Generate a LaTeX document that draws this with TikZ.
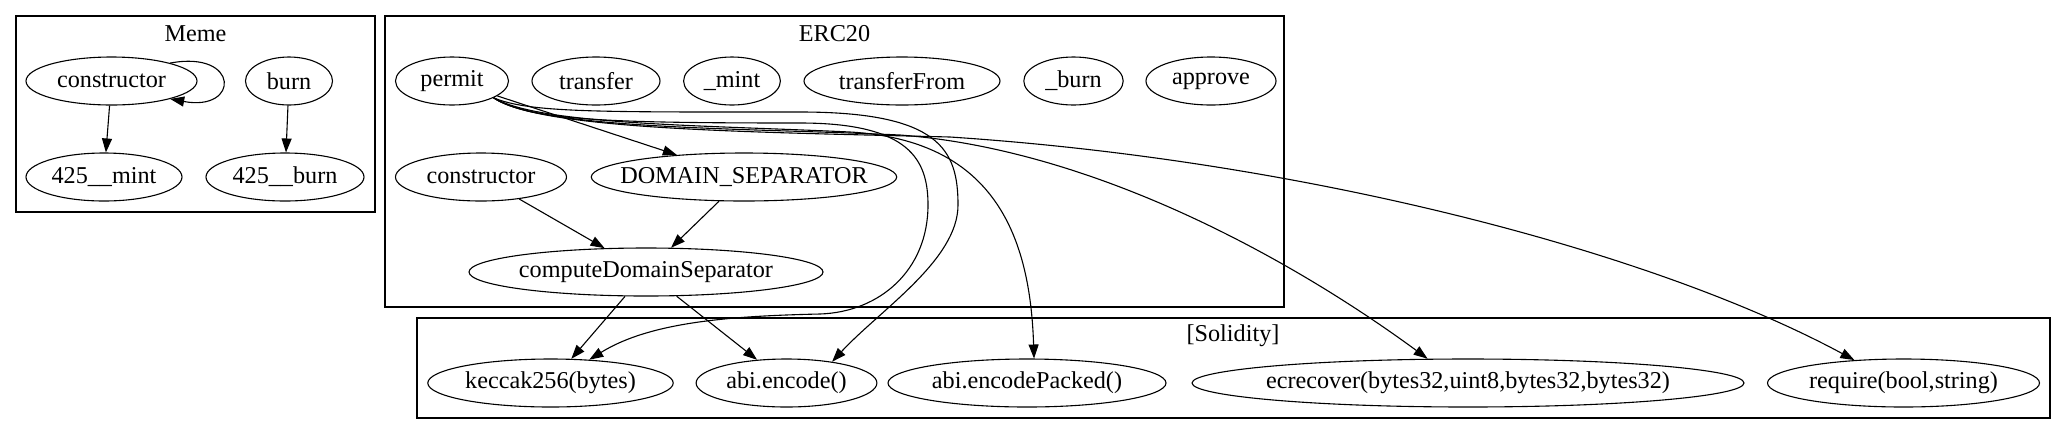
\documentclass[tikz,border=0pt]{standalone}
\usepackage{fontspec}
\setmainfont{Liberation Serif}
\usetikzlibrary{shapes.geometric,arrows.meta}
\begin{document}
\begin{tikzpicture}[
            x = .5pt, y = -.5pt,
            every node/.style={font=\fontsize{12.1}{14}\selectfont},
            fn/.style={ellipse, draw, line width=.55pt, inner xsep=-10pt, inner ysep=0pt, minimum height=24pt},
            box/.style={draw, line width=.65pt},
            line/.style={line width=.55pt, -{Triangle[length=7pt, width=5pt]}},
            ]
    \useasboundingbox (0, 0) rectangle (2067, 435);

    \draw[box] (16, 16) rectangle (375, 212);
    \draw[box] (385, 16) rectangle (1284, 307);
    \draw[box] (417, 318) rectangle (2050, 418);
    \node (meme) at (195.5, 34) {Meme};
    \node (erc) at (834.5, 34) {ERC20};
    \node (solidity) at (1233, 336) {[Solidity]};

    \node[fn, minimum width=85.5pt] (mcons) at (111.5, 81) {constructor};
    \node[fn, minimum width=43.5pt] (mburn) at (289, 81) {burn};
    \node[fn, minimum width=78pt] (mmint) at (104, 177) {425\_\_mint};
    \node[fn, minimum width=79pt] (mburnx) at (285, 177) {425\_\_burn};

    \node[fn, minimum width=56.5pt] (permit) at (452, 81) {permit};
    \node[fn, minimum width=64pt] (transfer) at (596, 81) {transfer};
    \node[fn, minimum width=48.4pt] (mint) at (732, 81) {\_mint};
    \node[fn, minimum width=98pt] (transferfrom) at (902, 81) {transferFrom};
    \node[fn, minimum width=49.7pt] (burn) at (1073.5, 81) {\_burn};
    \node[fn, minimum width=65pt] (approve) at (1211, 81) {approve};
    \node[fn, minimum width=85.5pt] (econs) at (481, 177) {constructor};
    \node[fn, minimum width=152.7pt] (domsep) at (744, 177) {DOMAIN\_SEPARATOR};
    \node[fn, minimum width=177pt] (compute) at (646, 272) {computeDomainSeparator};

    \node[fn, minimum width=122.7pt] (keccak) at (550.5, 383) {keccak256(bytes)};
    \node[fn, minimum width=90.4pt] (encode) at (786.5, 383) {abi.encode()};
    \node[fn, minimum width=139pt] (encpacked) at (1027, 383) {abi.encodePacked()};
    \node[fn, minimum width=276pt] (ecrecover) at (1468, 383) {ecrecover(bytes32,uint8,bytes32,bytes32)};
    \node[fn, minimum width=136pt] (require) at (1903.5, 383) {require(bool,string)};

    \draw[line] (mcons) -- (mmint);
    \draw[line] (mburn) -- (mburnx);
    \draw[line] (mcons.17) .. controls (240, 50) and (240, 112) .. (mcons.-17);
    \draw[line] (permit) -- (domsep);
    \draw[line] (econs) -- (compute);
    \draw[line] (domsep) -- (compute);
    \draw[line] (compute) -- (keccak);
    \draw[line] (compute) -- (encode);
    \draw[line] (permit.-22) .. controls (530, 113) and (600, 112) .. (800, 112) .. controls (940, 112) and (958, 150) .. (958, 205) .. controls (958, 260) and (880, 310) .. (encode.25);
    \draw[line] (permit.-22) .. controls (530, 120) and (600, 123) .. (800, 123) .. controls (910, 123) and (928, 160) .. (928, 205) .. controls (928, 270) and (880, 312) .. (820, 314) .. controls (730, 316) and (650, 322) .. (keccak.31);
    \draw[line] (permit.-22) .. controls (540, 125) and (700, 125) .. (850, 132) .. controls (990, 140) and (1030, 230) .. (encpacked.74);
    \draw[line] (permit.-22) .. controls (540, 130) and (750, 128) .. (900, 135) .. controls (1100, 150) and (1300, 265) .. (ecrecover.149);
    \draw[line] (permit.-22) .. controls (540, 130) and (750, 132) .. (950, 137) .. controls (1300, 160) and (1650, 250) .. (require.155);
\end{tikzpicture}
\end{document}
